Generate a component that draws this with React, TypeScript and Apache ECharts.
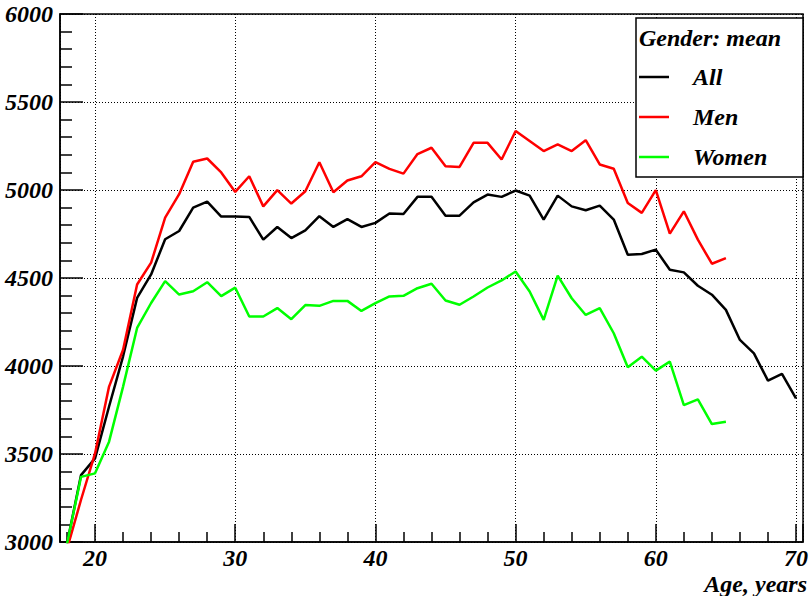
import React, { useEffect, useRef } from "react";
import * as echarts from "echarts";

const allAges: number[] = [
  18, 19, 20, 21, 22, 23, 24, 25, 26, 27, 28, 29, 30, 31, 32, 33, 34, 35, 36, 37, 38, 39, 40, 41, 42, 43, 44,
  45, 46, 47, 48, 49, 50, 51, 52, 53, 54, 55, 56, 57, 58, 59, 60, 61, 62, 63, 64, 65, 66, 67, 68, 69, 70,
];
const allValues: number[] = [
  2990, 3380, 3475, 3770, 4055, 4387, 4520, 4720, 4767, 4900, 4934, 4849, 4849, 4847, 4718, 4790, 4727, 4771,
  4851, 4790, 4835, 4790, 4813, 4866, 4864, 4961, 4961, 4854, 4854, 4930, 4974, 4961, 4997, 4968, 4832, 4968,
  4907, 4885, 4911, 4832, 4632, 4636, 4661, 4547, 4532, 4456, 4405, 4319, 4148, 4072, 3917, 3955, 3816,
];
const menValues: number[] = [
  2960, 3240, 3503, 3883, 4092, 4463, 4587, 4843, 4976, 5160, 5179, 5100, 4989, 5078, 4907, 4999, 4923, 4993,
  5158, 4987, 5054, 5078, 5158, 5120, 5093, 5204, 5240, 5135, 5131, 5268, 5268, 5173, 5335, 5278, 5221, 5259,
  5221, 5283, 5145, 5121, 4926, 4870, 4999, 4752, 4879, 4718, 4581, 4613,
];
const womenValues: number[] = [
  2990, 3370, 3390, 3570, 3883, 4216, 4358, 4482, 4406, 4425, 4476, 4397, 4445, 4281, 4281, 4329, 4266, 4346,
  4342, 4370, 4370, 4313, 4357, 4395, 4399, 4442, 4467, 4372, 4348, 4395, 4446, 4486, 4537, 4423, 4262, 4513,
  4385, 4290, 4329, 4186, 3993, 4053, 3974, 4025, 3778, 3810, 3670, 3683,
];
const seriesNames: string[] = ["All", "Men", "Women"];
const seriesColors: string[] = ["#000000", "#ff0000", "#00ff00"];
const legendTitle = "Gender: mean";
const xAxisTitle = "Age, years";

const FONT = "'Liberation Serif', 'Times New Roman', serif";

export default function App() {
  const ref = useRef<HTMLDivElement>(null);
  useEffect(() => {
    document.body.style.margin = "0";
    if (!ref.current) return;
    const chart = echarts.init(ref.current, undefined, { renderer: "svg" });
    const toPairs = (vals: number[]) => vals.map((v, i) => [allAges[i], v]);
    const valueSets = [allValues, menValues, womenValues];
    const labelStyle = {
      fontFamily: FONT,
      fontWeight: "bold" as const,
      fontStyle: "italic" as const,
      fontSize: 24,
      color: "#000",
    };
    const dotted = { color: "#000", width: 1, type: [1, 2] as number[] };
    const legendItems: any[] = [];
    seriesNames.forEach((n, i) => {
      const y = 77 + i * 40;
      legendItems.push({
        type: "line",
        shape: { x1: 639, y1: y, x2: 669, y2: y },
        style: { stroke: seriesColors[i], lineWidth: 2.5 },
        z: 101,
      });
      legendItems.push({
        type: "text",
        x: 693,
        y: y,
        style: {
          text: n,
          fill: "#000",
          font: `italic bold 24px ${FONT}`,
          textAlign: "left",
          textVerticalAlign: "middle",
        },
        z: 101,
      });
    });
    chart.setOption({
      animation: false,
      backgroundColor: "#ffffff",
      grid: {
        left: 60,
        top: 14,
        width: 748,
        height: 528,
        show: true,
        borderColor: "#000",
        borderWidth: 1.5,
        backgroundColor: "transparent",
      },
      xAxis: {
        type: "value",
        min: 17.5,
        max: 70.5,
        splitNumber: 5,
        axisLine: { show: true, onZero: false, lineStyle: { color: "#000", width: 1.5 } },
        axisTick: { show: true, inside: true, length: 18, lineStyle: { color: "#000", width: 1.5 } },
        minorTick: { show: true, splitNumber: 5, length: 10, lineStyle: { color: "#000", width: 1.5 } },
        axisLabel: {
          ...labelStyle,
          margin: 4,
          showMinLabel: false,
          showMaxLabel: false,
          formatter: (v: number) => (v % 10 === 0 ? String(v) : ""),
        },
        splitLine: { show: true, lineStyle: dotted },
      },
      yAxis: {
        type: "value",
        min: 3000,
        max: 6000,
        interval: 500,
        axisLine: { show: true, lineStyle: { color: "#000", width: 1.5 } },
        axisTick: { show: true, inside: true, length: 23, lineStyle: { color: "#000", width: 1.5 } },
        minorTick: { show: true, splitNumber: 5, length: 12, lineStyle: { color: "#000", width: 1.5 } },
        axisLabel: { ...labelStyle, margin: 7, formatter: (v: number) => String(v) },
        splitLine: { show: true, lineStyle: dotted },
      },
      series: seriesNames.map((n, i) => ({
        name: n,
        type: "line",
        data: toPairs(valueSets[i]),
        showSymbol: false,
        symbol: "none",
        clip: true,
        lineStyle: { color: seriesColors[i], width: 2.5 },
        itemStyle: { color: seriesColors[i] },
        z: 2 + i,
      })),
      graphic: [
        {
          type: "rect",
          shape: { x: 636, y: 18, width: 167, height: 159 },
          style: { fill: "#fff", stroke: "#000", lineWidth: 1.5 },
          z: 100,
        },
        {
          type: "text",
          x: 639,
          y: 38,
          style: {
            text: legendTitle,
            fill: "#000",
            font: `italic bold 24px ${FONT}`,
            textAlign: "left",
            textVerticalAlign: "middle",
          },
          z: 101,
        },
        ...legendItems,
        {
          type: "text",
          x: 807,
          y: 584,
          style: {
            text: xAxisTitle,
            fill: "#000",
            font: `italic bold 24px ${FONT}`,
            textAlign: "right",
            textVerticalAlign: "middle",
          },
          z: 101,
        },
      ],
    });
    return () => chart.dispose();
  }, []);
  return <div ref={ref} style={{ width: 811, height: 596 }} />;
}
